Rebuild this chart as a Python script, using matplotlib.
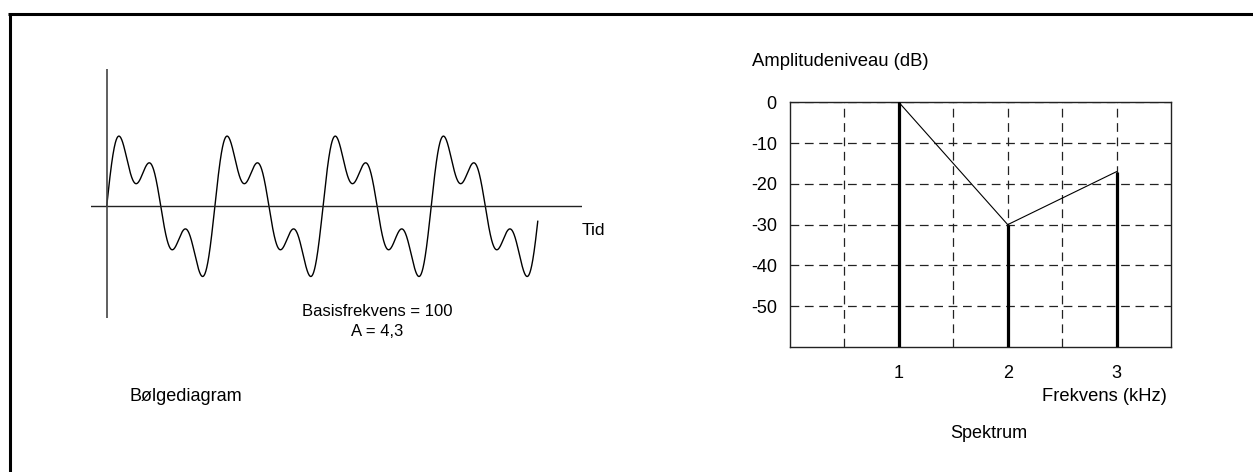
import numpy as np
import matplotlib
matplotlib.use("Agg")
import matplotlib.pyplot as plt
from matplotlib.lines import Line2D

plt.rcParams['font.family'] = ['Liberation Sans', 'DejaVu Sans']

# ---- data ----
# waveform: relative harmonic amplitudes (sine series) read from the curve shape
wave_harmonics = [1, 2, 3]
wave_amplitudes = [1.0, 0.263, 0.526]
wave_periods = 3.985          # number of periods drawn
# spectrum
spec_freqs = [1, 2, 3]
spec_levels = [0, -30, -17]
ytick_values = [0, -10, -20, -30, -40, -50]
ytick_labels = ['0', '-10', '-20', '-30', '-40', '-50']
xtick_values = [0.5, 1, 1.5, 2, 2.5, 3]
xtick_labels = ['', '1', '', '2', '', '3']

W, H = 1253, 472
fig = plt.figure(figsize=(W / 100, H / 100), dpi=100)


def fx(x):
    return x / W


def fy(y):
    return 1 - y / H


def rect(x0, y0, x1, y1):
    return [fx(x0), fy(y1), fx(x1) - fx(x0), fy(y0) - fy(y1)]


# outer frame (left and top edges)
fig.add_artist(Line2D([fx(9.5), fx(9.5)], [fy(13.5), 0], color='black', lw=2.2,
                      transform=fig.transFigure, solid_capstyle='butt'))
fig.add_artist(Line2D([fx(8), 1], [fy(13.5), fy(13.5)], color='black', lw=2.2,
                      transform=fig.transFigure, solid_capstyle='butt'))

# ---- waveform panel ----
axw = fig.add_axes(rect(91, 69, 582, 318))
t = np.linspace(0, wave_periods, 2000)
sig = np.zeros_like(t)
for h, a in zip(wave_harmonics, wave_amplitudes):
    sig += a * np.sin(2 * np.pi * h * t)
axw.plot(t, sig, color='black', lw=1.0)
axw.axhline(0, color='#222222', lw=1.0)
axw.axvline(0, color='#444444', lw=1.2)
axw.set_xlim(-0.145, 4.394)
axw.set_ylim(-2.161, 2.656)
axw.axis('off')

fig.text(fx(582), fy(231), 'Tid', fontsize=12.5, ha='left', va='center')
fig.text(fx(377.5), fy(311.5), 'Basisfrekvens = 100', fontsize=12, ha='center', va='center')
fig.text(fx(377.5), fy(331.5), 'A = 4,3', fontsize=12, ha='center', va='center')
fig.text(fx(129.5), fy(396.5), 'Bølgediagram', fontsize=13, ha='left', va='center')

# ---- spectrum panel ----
axs = fig.add_axes(rect(790, 102.3, 1171, 347))
axs.set_xlim(0, 3.5)
axs.set_ylim(-60, 0)
axs.set_yticks(ytick_values)
axs.set_yticklabels(ytick_labels)
axs.set_xticks(xtick_values)
axs.set_xticklabels(xtick_labels)
axs.tick_params(length=0, labelsize=13)
axs.tick_params(axis='y', pad=9.5)
axs.tick_params(axis='x', pad=12.8)
axs.grid(True, color='#222222', lw=0.9, linestyle=(0, (7, 4.5)))
for sp in axs.spines.values():
    sp.set_color('#222222')
    sp.set_linewidth(1.0)
axs.vlines(spec_freqs, -60, spec_levels, color='black', lw=2.3, zorder=3)
axs.plot(spec_freqs, spec_levels, color='black', lw=0.8, zorder=3)

fig.text(fx(752), fy(61.7), 'Amplitudeniveau (dB)', fontsize=13.3, ha='left', va='center')
fig.text(fx(1167), fy(396.7), 'Frekvens (kHz)', fontsize=13.2, ha='right', va='center')
fig.text(fx(989), fy(433), 'Spektrum', fontsize=13, ha='center', va='center')

fig.savefig('out.png', dpi=100, facecolor='white')
